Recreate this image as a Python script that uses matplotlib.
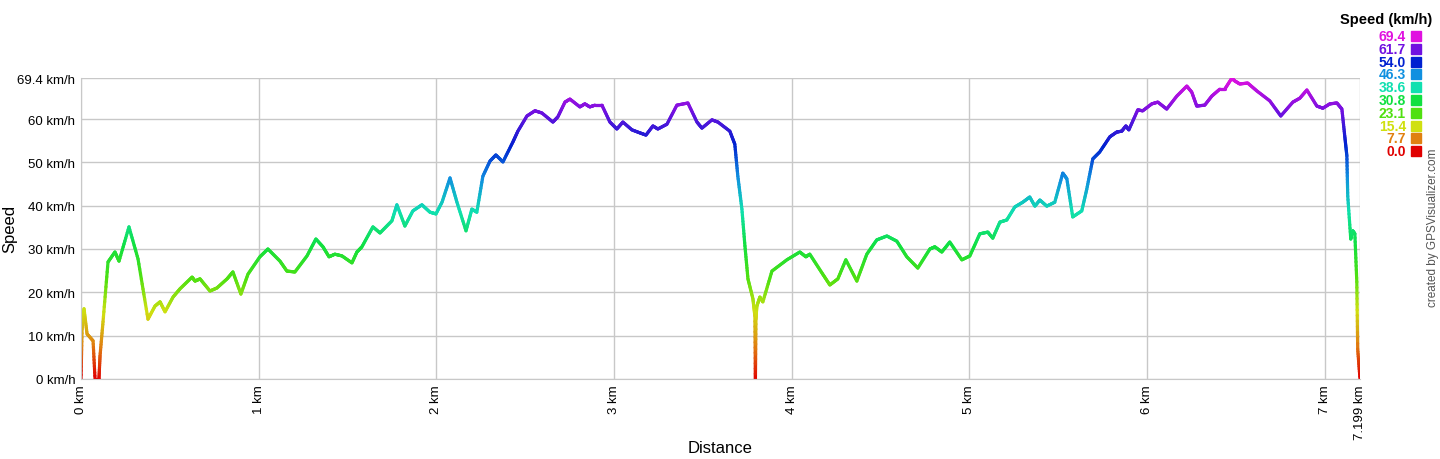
import matplotlib.pyplot as plt
import numpy as np
from matplotlib.collections import LineCollection
from matplotlib.colors import LinearSegmentedColormap

plt.rcParams['font.family'] = ['Liberation Sans', 'DejaVu Sans']

# distance (km) and speed (km/h) read from the profile
distance = [
    0.000, 0.006, 0.017, 0.034, 0.068, 0.079, 0.101, 0.107, 0.124, 0.152,
    0.191, 0.214, 0.270, 0.321, 0.377, 0.416, 0.445, 0.473, 0.518, 0.557,
    0.625, 0.642, 0.670, 0.726, 0.765, 0.822, 0.855, 0.900, 0.940, 1.007,
    1.052, 1.120, 1.159, 1.204, 1.272, 1.322, 1.362, 1.396, 1.429, 1.469,
    1.525, 1.553, 1.581, 1.643, 1.683, 1.750, 1.778, 1.823, 1.868, 1.919,
    1.964, 1.998, 2.032, 2.077, 2.116, 2.167, 2.200, 2.228, 2.262, 2.302,
    2.335, 2.375, 2.431, 2.459, 2.510, 2.555, 2.594, 2.656, 2.684, 2.724,
    2.752, 2.808, 2.836, 2.864, 2.893, 2.932, 2.977, 3.016, 3.050, 3.101,
    3.146, 3.180, 3.219, 3.247, 3.298, 3.354, 3.416, 3.467, 3.495, 3.551,
    3.585, 3.652, 3.680, 3.697, 3.720, 3.737, 3.754, 3.782, 3.793, 3.796,
    3.799, 3.804, 3.821, 3.838, 3.889, 3.973, 4.046, 4.080, 4.102, 4.170,
    4.215, 4.260, 4.305, 4.367, 4.423, 4.479, 4.536, 4.592, 4.648, 4.710,
    4.778, 4.806, 4.845, 4.890, 4.958, 5.003, 5.059, 5.104, 5.132, 5.172,
    5.211, 5.256, 5.301, 5.340, 5.369, 5.397, 5.436, 5.481, 5.526, 5.549,
    5.582, 5.633, 5.661, 5.695, 5.734, 5.791, 5.830, 5.858, 5.881, 5.898,
    5.948, 5.976, 6.027, 6.061, 6.111, 6.168, 6.224, 6.252, 6.280, 6.325,
    6.365, 6.410, 6.438, 6.477, 6.494, 6.522, 6.567, 6.618, 6.691, 6.753,
    6.821, 6.860, 6.900, 6.956, 6.990, 7.029, 7.069, 7.097, 7.113, 7.125,
    7.130, 7.147, 7.158, 7.170, 7.181, 7.186, 7.199,
]
speed = [
    0.0, 11.5, 16.2, 10.4, 8.8, 0.0, 0.0, 5.3, 13.2, 27.0,
    29.3, 27.2, 35.1, 27.7, 13.8, 16.8, 17.8, 15.5, 18.9, 20.8,
    23.5, 22.6, 23.1, 20.3, 21.0, 23.1, 24.7, 19.6, 24.2, 28.2,
    30.0, 27.2, 24.9, 24.7, 28.4, 32.3, 30.5, 28.2, 28.8, 28.4,
    26.8, 29.3, 30.5, 35.1, 33.7, 36.5, 40.2, 35.3, 38.8, 40.2,
    38.5, 38.1, 40.8, 46.4, 40.8, 34.2, 39.2, 38.5, 46.8, 50.3,
    51.7, 50.1, 54.7, 57.2, 60.7, 61.9, 61.4, 59.3, 60.5, 63.9,
    64.6, 62.8, 63.5, 62.8, 63.2, 63.2, 59.3, 57.7, 59.3, 57.5,
    56.8, 56.3, 58.4, 57.7, 58.8, 63.2, 63.7, 59.3, 57.9, 59.8,
    59.3, 57.2, 54.2, 46.8, 39.2, 30.7, 23.1, 18.5, 14.5, 0.0,
    13.8, 16.8, 18.9, 17.8, 24.9, 27.5, 29.3, 28.2, 28.8, 24.5,
    21.7, 23.1, 27.5, 22.6, 28.8, 32.1, 33.0, 31.8, 28.2, 25.6,
    30.0, 30.5, 29.3, 31.6, 27.5, 28.4, 33.5, 33.9, 32.5, 36.2,
    36.7, 39.7, 40.8, 42.0, 39.9, 41.3, 39.9, 40.8, 47.5, 46.2,
    37.4, 38.8, 43.8, 50.8, 52.4, 55.9, 57.0, 57.2, 58.4, 57.5,
    62.1, 61.9, 63.5, 63.9, 62.3, 65.3, 67.6, 66.2, 63.0, 63.2,
    65.3, 66.9, 66.9, 69.4, 68.8, 68.1, 68.3, 66.5, 64.2, 60.7,
    63.9, 64.8, 66.7, 63.0, 62.5, 63.5, 63.7, 62.3, 56.1, 51.5,
    42.2, 32.3, 34.2, 33.5, 22.4, 6.9, 0.0,
]

legend_values = [69.4, 61.7, 54.0, 46.3, 38.6, 30.8, 23.1, 15.4, 7.7, 0.0]
legend_colors = ['#e010e0', '#7010e0', '#0020d0', '#1090e0', '#10e0b0',
                 '#10e040', '#50e010', '#d0e010', '#e08010', '#e00000']
y_ticks = [0, 10, 20, 30, 40, 50, 60, 69.4]
x_ticks = [0, 1, 2, 3, 4, 5, 6, 7, 7.199]
max_speed = 69.4
max_dist = 7.199


def main():
    fig = plt.figure(figsize=(14.4, 4.6), dpi=100)
    ax = fig.add_axes([0.05625, 0.174, 0.8882, 0.6536])

    cmap = LinearSegmentedColormap.from_list(
        'speed', list(zip(np.array(legend_values[::-1]) / max_speed, legend_colors[::-1])))

    # split each segment into short pieces so the colour follows the speed
    xs, ys = [], []
    for i in range(len(distance) - 1):
        t = np.linspace(0, 1, 12, endpoint=False)
        xs.append(distance[i] + t * (distance[i + 1] - distance[i]))
        ys.append(speed[i] + t * (speed[i + 1] - speed[i]))
    xs.append([distance[-1]])
    ys.append([speed[-1]])
    xs = np.concatenate(xs)
    ys = np.concatenate(ys)
    pts = np.column_stack([xs, ys]).reshape(-1, 1, 2)
    segs = np.concatenate([pts[:-1], pts[1:]], axis=1)
    lc = LineCollection(segs, cmap=cmap, linewidths=2.3, capstyle='round')
    lc.set_array((ys[:-1] + ys[1:]) / 2)
    lc.set_clim(0, max_speed)
    ax.add_collection(lc)

    ax.set_xlim(0, max_dist)
    ax.set_ylim(0, max_speed)
    ax.set_yticks(y_ticks)
    ax.set_yticklabels(['%g km/h' % v for v in y_ticks], fontsize=9.5)
    ax.set_xticks(x_ticks)
    ax.set_xticklabels(['%g km' % v for v in x_ticks], rotation=90, fontsize=9.5)
    ax.tick_params(length=0, pad=4)
    ax.grid(True, color='#c8c8c8', linewidth=1)
    ax.set_axisbelow(True)
    for s in ['top', 'right']:
        ax.spines[s].set_visible(False)
    for s in ['left', 'bottom']:
        ax.spines[s].set_color('#c8c8c8')

    fig.text(10 / 1440, 1 - 229 / 460, 'Speed', rotation=90, ha='center', va='center',
             fontsize=12)
    fig.text(720 / 1440, 1 - 449 / 460, 'Distance', ha='center', va='center', fontsize=12)

    # legend
    fig.text(1432 / 1440, 1 - 20 / 460, 'Speed (km/h)', ha='right', va='center',
             fontsize=10.5, fontweight='bold')
    for i, (v, c) in enumerate(zip(legend_values, legend_colors)):
        yc = 1 - (37 + i * 12.8) / 460
        fig.text(1406 / 1440, yc, '%.1f' % v, ha='right', va='center',
                 fontsize=10, fontweight='bold', color=c)
        fig.patches.append(plt.Rectangle((1411 / 1440, yc - 5 / 460), 10 / 1440, 10 / 460,
                                         transform=fig.transFigure, color=c))

    fig.text(1433 / 1440, 1 - 228 / 460, 'created by GPSVisualizer.com', rotation=90,
             ha='center', va='center', fontsize=8.5, color='#555555')

    fig.savefig('out.png', dpi=100)


if __name__ == "__main__":
    main()
